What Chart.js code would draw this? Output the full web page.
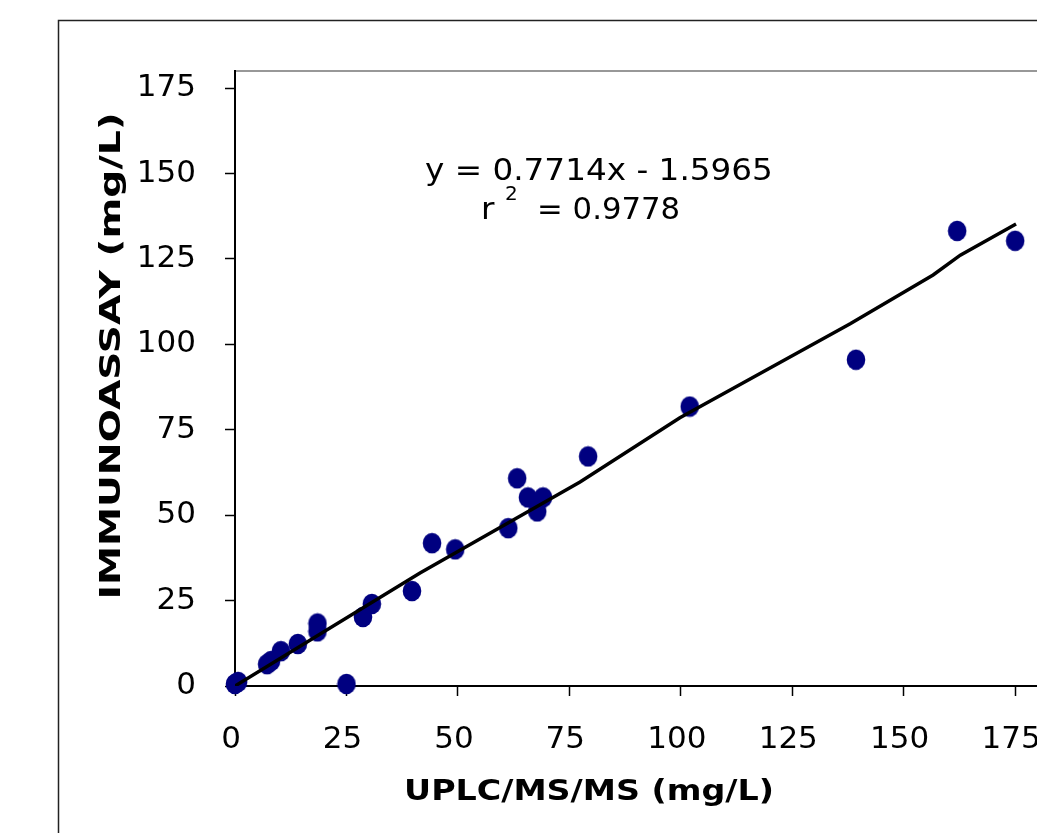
<!DOCTYPE html>
<html>
<head>
<meta charset="utf-8">
<script src="https://cdn.jsdelivr.net/npm/chart.js@4.4.1/dist/chart.umd.min.js"></script>
<style>
  html, body { margin: 0; padding: 0; background: #fff; overflow: hidden; }
  #wrap { position: absolute; left: 0; top: 0; width: 1100px; height: 880px; }
</style>
</head>
<body>
<div id="wrap"><canvas id="chart" width="1100" height="880"></canvas></div>
<script>
// measured points (UPLC/MS/MS vs immunoassay, mg/L)
const uplcValues = [0, 0.7, 7.2, 8.1, 10.3, 14.1, 18.5, 18.5, 25, 28.7, 30.7, 39.7, 44.2, 49.4,
                    61.3, 63.3, 65.7, 67.8, 69.1, 79.2, 102, 139.3, 162, 175];
const immunoValues = [0.6, 1.2, 6.4, 7.3, 10.2, 12.3, 16, 18.3, 0.6, 20.2, 24, 27.8, 41.8, 40,
                      46.2, 60.8, 55.2, 51.1, 55.2, 67.2, 81.8, 95.5, 133.2, 130.3];

// trend line as drawn in the picture
const fitX = [0, 41.5, 77.4, 99.8, 138, 156.6, 162.7, 175.2];
const fitY = [0, 33.1, 59.7, 78.5, 106, 120.3, 126.1, 135.2];

const tickValues = [0, 25, 50, 75, 100, 125, 150, 175];
const xTitle = 'UPLC/MS/MS (mg/L)';
const yTitle = 'IMMUNOASSAY (mg/L)';
const equationText = 'y = 0.7714x - 1.5965';
const r2Text = '= 0.9778';

const FONT = '"DejaVu Sans", Verdana, sans-serif';

// navy ellipse marker
const marker = document.createElement('canvas');
marker.width = 20; marker.height = 22;
(function () {
  const c = marker.getContext('2d');
  c.fillStyle = '#000080';
  c.beginPath();
  c.ellipse(10, 11, 9.3, 10.3, 0, 0, Math.PI * 2);
  c.fill();
})();

const onlyTicks = (scale) => {
  scale.ticks = tickValues.map(v => ({ value: v }));
};

// text a bit wider than the font gives (Verdana in the original is wider)
function wideText(ctx, txt, x, y, sx) {
  ctx.save();
  ctx.translate(x, y);
  ctx.scale(sx, 1);
  ctx.fillText(txt, 0, 0);
  ctx.restore();
}

const extras = {
  id: 'extras',
  beforeDraw(chart) {
    const ctx = chart.ctx;
    const a = chart.chartArea;
    ctx.save();
    ctx.fillStyle = '#fff';
    ctx.fillRect(0, 0, chart.width, chart.height);
    // outer frame
    ctx.strokeStyle = '#222';
    ctx.lineWidth = 1.5;
    ctx.strokeRect(58.5, 20.5, 1200, 1000);
    // plot frame (top / right)
    ctx.strokeStyle = '#777';
    ctx.lineWidth = 1.5;
    ctx.strokeRect(a.left, a.top, a.right - a.left, a.bottom - a.top);
    ctx.restore();
  },
  afterDraw(chart) {
    const ctx = chart.ctx;
    const xs = chart.scales.x, ys = chart.scales.y;
    ctx.save();
    ctx.fillStyle = '#000';
    ctx.textBaseline = 'alphabetic';
    ctx.textAlign = 'center';
    ctx.font = 'bold 28px ' + FONT;
    wideText(ctx, xTitle, 589, 800, 1.19);
    ctx.save();
    ctx.translate(120, 356);
    ctx.rotate(-Math.PI / 2);
    wideText(ctx, yTitle, 0, 0, 1.40);
    ctx.restore();

    // regression equation
    ctx.textAlign = 'left';
    ctx.font = '31px ' + FONT;
    const sx = 348 / ctx.measureText(equationText).width;
    wideText(ctx, equationText, xs.getPixelForValue(42.6), ys.getPixelForValue(148.1), sx);
    const rx = xs.getPixelForValue(55.2), ry = ys.getPixelForValue(136.6);
    wideText(ctx, 'r', rx, ry, sx);
    ctx.font = '19px ' + FONT;
    wideText(ctx, '2', rx + 24, ry - 19, sx);
    ctx.font = '31px ' + FONT;
    const sx2 = 143 / ctx.measureText(r2Text).width;
    wideText(ctx, r2Text, rx + 56, ry, sx2);
    ctx.restore();
  }
};

new Chart(document.getElementById('chart'), {
  type: 'scatter',
  data: {
    datasets: [
      {
        label: 'fit',
        data: fitX.map((x, i) => ({ x: x, y: fitY[i] })),
        showLine: true,
        borderColor: '#000',
        borderWidth: 3.5,
        pointRadius: 0,
        order: 0
      },
      {
        label: 'samples',
        data: uplcValues.map((x, i) => ({ x: x, y: immunoValues[i] })),
        pointStyle: marker,
        pointRadius: 10,
        clip: false,
        order: 1
      }
    ]
  },
  options: {
    responsive: false,
    animation: false,
    layout: { padding: { top: 71, right: 18, left: 0, bottom: 0 } },
    plugins: { legend: { display: false }, tooltip: { enabled: false } },
    scales: {
      x: {
        type: 'linear',
        min: 0, max: 190,
        afterBuildTicks: onlyTicks,
        afterFit: (s) => { s.height = 194; },
        border: { color: '#000', width: 2 },
        grid: { drawOnChartArea: false, drawTicks: true, tickLength: 10, tickColor: '#000', tickWidth: 1.5 },
        ticks: { color: '#000', font: { family: FONT, size: 31 }, padding: 25, maxRotation: 0, labelOffset: -4 }
      },
      y: {
        type: 'linear',
        min: 0, max: 180,
        afterBuildTicks: onlyTicks,
        afterFit: (s) => { s.width = 235; },
        border: { color: '#000', width: 2 },
        grid: { drawOnChartArea: false, drawTicks: true, tickLength: 10, tickColor: '#000', tickWidth: 1.5 },
        ticks: { color: '#000', font: { family: FONT, size: 31 }, padding: 29 }
      }
    }
  },
  plugins: [extras]
});
</script>
</body>
</html>
